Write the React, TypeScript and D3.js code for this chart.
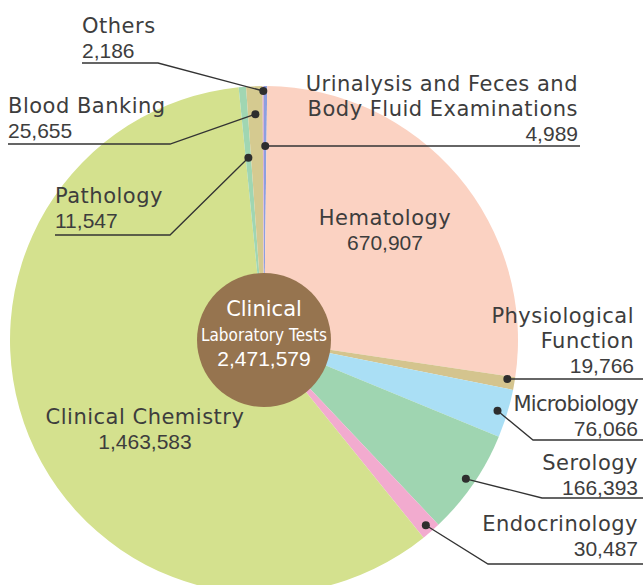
import * as d3 from "d3";

// slices, clockwise from 12 o'clock
const categories = [
  "Urinalysis and Feces and Body Fluid Examinations",
  "Hematology",
  "Physiological Function",
  "Microbiology",
  "Serology",
  "Endocrinology",
  "Clinical Chemistry",
  "Pathology",
  "Blood Banking",
  "Others",
];
const counts = [4989, 670907, 19766, 76066, 166393, 30487, 1463583, 11547, 25655, 2186];
const colors = [
  "#8c9fe0", "#fbd2c2", "#d4c48e", "#aadff5", "#9fd5b1",
  "#f2abcf", "#d4e18e", "#a0d6b2", "#d5ca90", "#d6b2d8",
];
const totalLabel = "2,471,579";

const width = 643;
const height = 585;
const cx = 264;
const cy = 340;
const radius = 254;

const fmt = (n: number) => d3.format(",")(n);

// label layout: lines of text, anchor, dot radius, underline
type Callout = {
  lines: string[];
  x: number;
  y: number;
  anchor: "start" | "end" | "middle";
  ls?: number;
  dotR?: number;
  lineY?: number;
  lineX0?: number;
  lineX1?: number;
  elbowX?: number;
};

const callouts: Callout[] = [
  { lines: ["Urinalysis and Feces and", "Body Fluid Examinations"], x: 578, y: 91, anchor: "end", dotR: 194, lineY: 146, lineX0: 266, lineX1: 580 },
  { lines: ["Hematology"], x: 385, y: 225, anchor: "middle" },
  { lines: ["Physiological", "Function"], x: 634, y: 323, anchor: "end", dotR: 247, lineY: 379, lineX0: 508, lineX1: 643 },
  { lines: ["Microbiology"], x: 638, y: 411, anchor: "end", ls: -0.7, dotR: 244, lineY: 440, lineX0: 533, lineX1: 643, elbowX: 533 },
  { lines: ["Serology"], x: 638, y: 470, anchor: "end", dotR: 245, lineY: 498, lineX0: 542, lineX1: 643, elbowX: 542 },
  { lines: ["Endocrinology"], x: 638, y: 531, anchor: "end", dotR: 246, lineY: 564, lineX0: 488, lineX1: 643, elbowX: 488 },
  { lines: ["Clinical Chemistry"], x: 145, y: 424, anchor: "middle" },
  { lines: ["Pathology"], x: 55, y: 203, anchor: "start", dotR: 183, lineY: 235, lineX0: 55, lineX1: 170, elbowX: 170 },
  { lines: ["Blood Banking"], x: 8, y: 113, anchor: "start", dotR: 226, lineY: 144, lineX0: 8, lineX1: 170, elbowX: 170 },
  { lines: ["Others"], x: 82, y: 33, anchor: "start", dotR: 249, lineY: 63, lineX0: 82, lineX1: 158, elbowX: 158 },
];

const wordFont = "'DejaVu Sans', 'Noto Sans', sans-serif";
const numFont = "'Liberation Sans', Arial, sans-serif";

export default function App() {
  const pie = d3.pie<number>().sort(null).startAngle(0).endAngle(2 * Math.PI);
  const arcs = pie(counts);
  const arc = d3.arc<d3.PieArcDatum<number>>().innerRadius(0).outerRadius(radius);

  const lineH = 25;
  const textColor = "#3d3d3d";

  return (
    <div style={{ position: "absolute", left: 0, top: 0 }}>
      <svg width={width} height={height} style={{ display: "block" }}>
        <rect width={width} height={height} fill="#fff" />
        <g transform={`translate(${cx},${cy})`}>
          {arcs.map((a, i) => (
            <path key={categories[i]} d={arc(a) ?? ""} fill={colors[i]} />
          ))}
        </g>

        {callouts.map((c, i) => {
          const a = arcs[i];
          const mid = (a.startAngle + a.endAngle) / 2;
          let dot: [number, number] | null = null;
          if (c.dotR) {
            dot = [cx + c.dotR * Math.sin(mid), cy - c.dotR * Math.cos(mid)];
          }
          let path = "";
          if (dot && c.lineY !== undefined) {
            const far = c.anchor === "start" ? c.lineX0! : c.lineX1!;
            if (c.elbowX !== undefined) {
              path = `M${dot[0]},${dot[1]}L${c.elbowX},${c.lineY}L${far},${c.lineY}`;
            } else {
              // horizontal leader: snap the dot onto the underline
              dot = [dot[0], c.lineY];
              path = `M${dot[0]},${c.lineY}L${far},${c.lineY}`;
            }
          }
          const n = c.lines.length;
          return (
            <g key={categories[i]} fill={textColor}>
              {c.lines.map((l, j) => (
                <text
                  key={j}
                  x={c.x}
                  y={c.y + j * lineH}
                  textAnchor={c.anchor}
                  fontFamily={wordFont}
                  fontSize={21}
                  letterSpacing={c.ls ?? 0.5}
                >
                  {l}
                </text>
              ))}
              <text
                x={c.x}
                y={c.y + n * lineH}
                textAnchor={c.anchor}
                fontFamily={numFont}
                fontSize={21}
              >
                {fmt(counts[i])}
              </text>
              {path && <path d={path} fill="none" stroke="#333" strokeWidth={1.3} />}
              {dot && <circle cx={dot[0]} cy={dot[1]} r={4} fill="#2e2e2e" />}
            </g>
          );
        })}

        <circle cx={cx} cy={cy} r={67} fill="#96744f" />
        <text x={cx} y={316} textAnchor="middle" fontFamily={wordFont} fontSize={21} fill="#fff">
          Clinical
        </text>
        <text
          x={cx}
          y={341}
          textAnchor="middle"
          fontFamily={wordFont}
          fontSize={17}
          fill="#fff"
          textLength={126}
          lengthAdjust="spacingAndGlyphs"
        >
          Laboratory Tests
        </text>
        <text x={cx} y={366} textAnchor="middle" fontFamily={numFont} fontSize={21} fill="#fff">
          {totalLabel}
        </text>
      </svg>
    </div>
  );
}
